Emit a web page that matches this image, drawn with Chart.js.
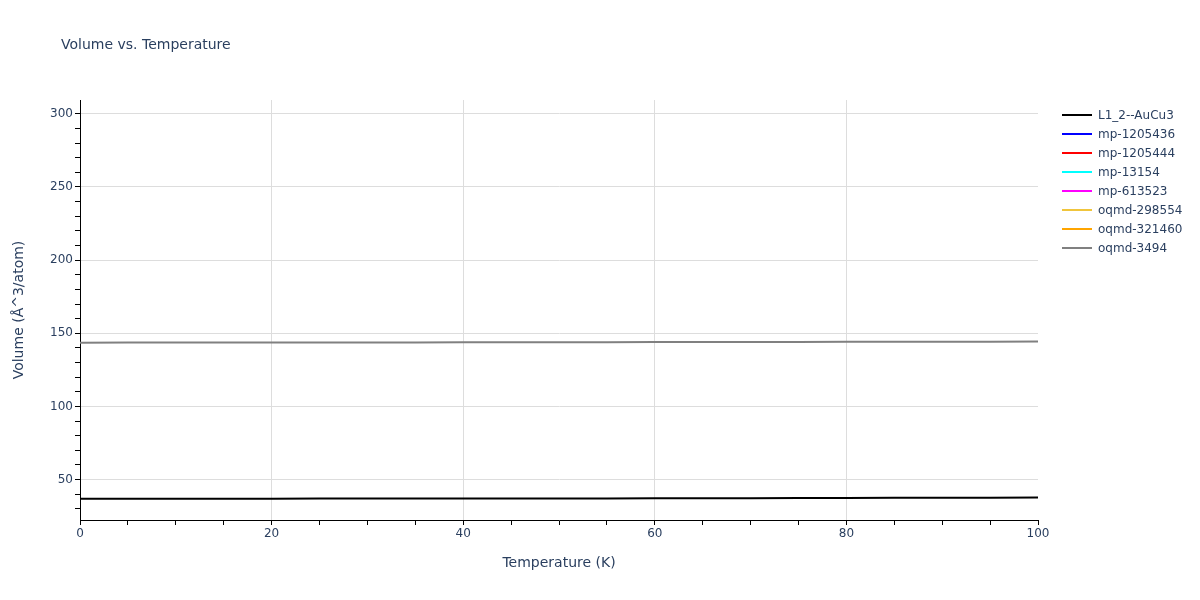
<!DOCTYPE html>
<html>
<head>
<meta charset="utf-8">
<script src="https://cdn.jsdelivr.net/npm/chart.js@4"></script>
<style>
  body { margin: 0; background: #fff; font-family: "DejaVu Sans", sans-serif; color: #2a3f5f; }
  #wrap { position: relative; width: 1200px; height: 600px; }
  #title { position: absolute; left: 61px; top: 36px; font-size: 14px; }
  #legend { position: absolute; left: 1062px; top: 105px; font-size: 12px; }
  .row { height: 19px; display: flex; align-items: center; }
  .swatch { width: 30px; height: 2px; margin-right: 6px; }
</style>
</head>
<body>
<div id="wrap">
  <canvas id="chart" width="1200" height="600"></canvas>
  <div id="title">Volume vs. Temperature</div>
  <div id="legend"></div>
</div>
<script>
const temps = [0, 10, 20, 30, 40, 50, 60, 70, 80, 90, 100]
const auCu3 = [37.0, 37.0, 37.0, 37.02, 37.05, 37.1, 37.2, 37.3, 37.45, 37.6, 37.75]
const oqmd3494 = [143.6, 143.62, 143.66, 143.72, 143.79, 143.87, 143.96, 144.05, 144.14, 144.23, 144.32]

const seriesNames = ['L1_2--AuCu3', 'mp-1205436', 'mp-1205444', 'mp-13154', 'mp-613523', 'oqmd-298554', 'oqmd-321460', 'oqmd-3494']
const seriesColors = ['#000000', '#0000ff', '#ff0000', '#00ffff', '#ff00ff', '#f0c53c', '#ffa500', '#808080']
const seriesValues = [auCu3, [], [], [], [], [], [], oqmd3494]

const yTicks = [50, 100, 150, 200, 250, 300]
const xTicks = [0, 20, 40, 60, 80, 100]

const datasets = seriesNames.map((name, i) => ({
  label: name,
  data: seriesValues[i].map((v, j) => ({ x: temps[j], y: v })),
  borderColor: seriesColors[i],
  backgroundColor: seriesColors[i],
  borderWidth: 2,
  pointRadius: 0,
  tension: 0.3,
}))

// legend
const legend = document.getElementById('legend')
seriesNames.forEach((name, i) => {
  const row = document.createElement('div')
  row.className = 'row'
  row.innerHTML = `<div class="swatch" style="background:${seriesColors[i]}"></div><span>${name}</span>`
  legend.appendChild(row)
})

const tickFont = { family: 'DejaVu Sans', size: 12 }
const titleFont = { family: 'DejaVu Sans', size: 14 }

new Chart(document.getElementById('chart'), {
  type: 'line',
  data: { datasets },
  options: {
    responsive: false,
    animation: false,
    layout: { padding: { left: 0, right: 162, top: 100, bottom: 0 } },
    plugins: { legend: { display: false }, tooltip: { enabled: false } },
    scales: {
      x: {
        type: 'linear',
        min: 0,
        max: 100,
        afterFit: (s) => { s.height = 80 },
        afterBuildTicks: (s) => {
          const t = []
          for (let v = 0; v <= 100; v += 5) t.push({ value: v })
          s.ticks = t
        },
        ticks: {
          autoSkip: false,
          maxRotation: 0,
          color: '#2a3f5f',
          font: tickFont,
          padding: 2,
          callback: (v) => (xTicks.includes(v) ? v : ''),
        },
        grid: {
          color: (c) => (c.tick && xTicks.includes(c.tick.value) && c.tick.value !== 0 && c.tick.value !== 100 ? '#dddddd' : 'rgba(0,0,0,0)'),
          tickColor: '#000',
          tickLength: 5,
        },
        border: { color: '#000', width: 1 },
        title: { display: true, text: 'Temperature (K)', color: '#2a3f5f', font: titleFont, padding: { bottom: 28.6 } },
      },
      y: {
        min: 22.4,
        max: 309.4,
        afterFit: (s) => { s.width = 80 },
        afterBuildTicks: (s) => {
          const t = []
          for (let v = 30; v <= 300; v += 10) t.push({ value: v })
          s.ticks = t
        },
        ticks: {
          autoSkip: false,
          color: '#2a3f5f',
          font: tickFont,
          padding: 2,
          callback: (v) => (yTicks.includes(v) ? v : ''),
        },
        grid: {
          color: (c) => (c.tick && yTicks.includes(c.tick.value) ? '#dddddd' : 'rgba(0,0,0,0)'),
          tickColor: '#000',
          tickLength: 5,
        },
        border: { color: '#000', width: 1 },
        title: { display: true, text: 'Volume (Å^3/atom)', color: '#2a3f5f', font: titleFont, padding: { top: 10.6 } },
      },
    },
  },
})
</script>
</body>
</html>
